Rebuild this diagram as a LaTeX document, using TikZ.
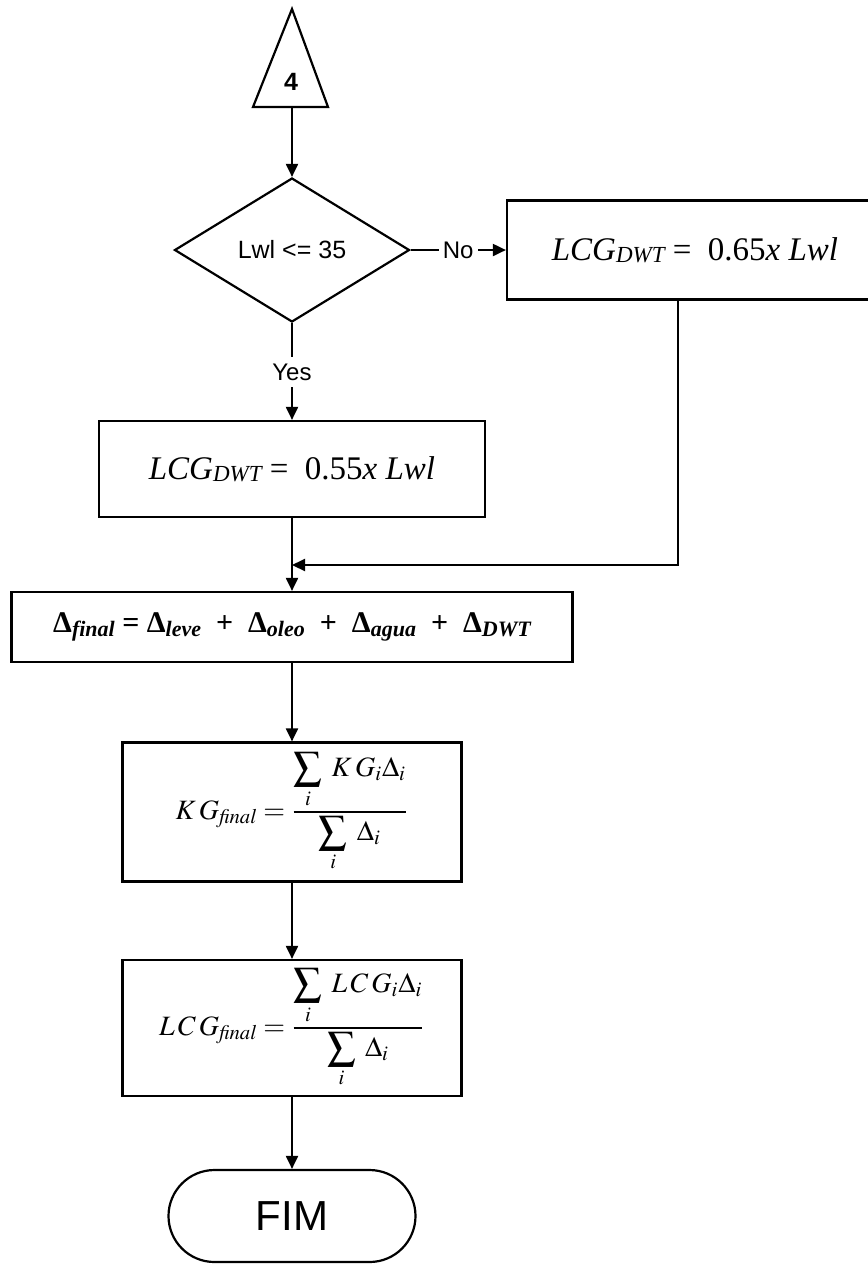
\documentclass[tikz,border=0pt]{standalone}
\usepackage{mathptmx}
\usepackage[no-math]{fontspec}
\setmainfont{Liberation Serif}
\newfontfamily\arial{Liberation Sans}
\usetikzlibrary{shapes.geometric,shapes.misc,arrows.meta,calc}
\newcommand{\indice}[1]{\raisebox{-0.35ex}{\fontsize{11}{11}\selectfont\bfseries\itshape #1}}
\newcommand{\indicedwt}{\raisebox{-0.1ex}{\fontsize{11.5}{11.5}\selectfont\itshape DWT}}

\begin{document}
\begin{tikzpicture}[x=0.5pt,y=-0.5pt,line width=1.1pt,
  bloco/.style={rectangle,draw,inner sep=0pt,align=center},
  decisao/.style={diamond,draw,inner sep=0pt,minimum width=117.5pt,minimum height=72pt,
                  font=\arial\fontsize{12.5}{14}\selectfont},
  terminal/.style={rounded rectangle,draw,inner sep=0pt,minimum width=123.5pt,minimum height=46pt,
                   font=\arial\fontsize{21}{24}\selectfont},
  rotulo/.style={font=\arial\fontsize{12}{14}\selectfont,fill=white,inner sep=2pt},
  seta/.style={-{Triangle[length=6.5pt,width=6pt]},line width=1pt}]

  \useasboundingbox (0,0) rectangle (868,1266);

  \draw (292,9) -- (328,107) -- (253,107) -- cycle;
  \node[font=\arial\bfseries\fontsize{12.5}{14}\selectfont] (QUATRO) at (291,82) {4};
  \coordinate (BASE) at (292,107);

  \node[decisao] (DEC) at (292,250) {Lwl <= 35};

  \node[bloco,minimum width=188pt,minimum height=49.5pt,font=\fontsize{16.5}{18}\selectfont] (DWT65) at (695,250)
    {\textit{LCG}\indicedwt\ = \ 0.65\textit{x Lwl}};

  \node[rotulo,inner sep=3pt] (SIM) at (292,372) {Yes};

  \node[bloco,minimum width=193pt,minimum height=48pt,font=\fontsize{16.5}{18}\selectfont] (DWT55) at (292,469)
    {\textit{LCG}\indicedwt\ = \ 0.55\textit{x Lwl}};

  \coordinate (JUNCAO) at (292,565);

  \node[bloco,minimum width=280.5pt,minimum height=35pt,font=\bfseries\fontsize{15}{17}\selectfont] (DELTA) at (292,627)
    {Δ\indice{final} = Δ\indice{leve}\enspace+\enspace Δ\indice{oleo}\enspace+\enspace
     Δ\indice{agua}\enspace+\enspace Δ\indice{DWT}};

  \node[bloco,minimum width=169.5pt,minimum height=69.5pt,font=\fontsize{14}{16}\selectfont] (KGF) at (292,812)
    {$\displaystyle K\,G_{\mathit{final}} = \frac{\displaystyle\sum_{i}\; K\,G_{i}\Delta_{i}}{\displaystyle\sum_{i}\;\Delta_{i}}$};

  \node[bloco,minimum width=169.5pt,minimum height=68pt,font=\fontsize{14}{16}\selectfont] (LCGF) at (292,1028)
    {$\displaystyle L\,C\,G_{\mathit{final}} = \frac{\displaystyle\sum_{i}\; L\,C\,G_{i}\Delta_{i}}{\displaystyle\sum_{i}\;\Delta_{i}}$};

  \node[terminal] (FIM) at (292,1216) {FIM};

  \draw[seta] (BASE) -- (DEC.north);
  \draw[seta] (DEC.east) -- (DWT65.west) node[rotulo,midway] {No};
  \draw (DEC.south) -- (SIM.north);
  \draw[seta] (SIM.south) -- (DWT55.north);
  \draw[seta] (DWT55.south) -- (DELTA.north);
  \draw[seta] ([xshift=-8.5pt]DWT65.south) |- (JUNCAO);
  \draw[seta] (DELTA.south) -- (KGF.north);
  \draw[seta] (KGF.south) -- (LCGF.north);
  \draw[seta] (LCGF.south) -- (FIM.north);
\end{tikzpicture}
\end{document}
